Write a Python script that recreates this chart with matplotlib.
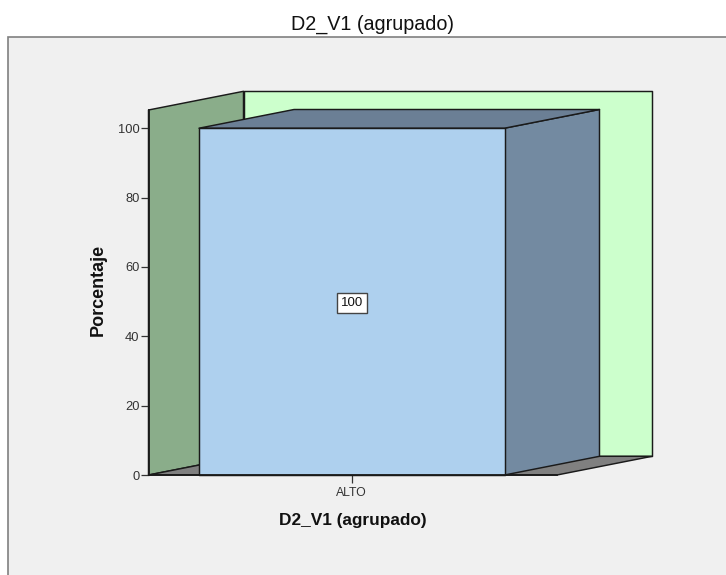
import matplotlib
matplotlib.use("Agg")
import matplotlib.pyplot as plt
from matplotlib.patches import Rectangle

categories = ["ALTO"]
values = [100]
y_ticks = [0, 20, 40, 60, 80, 100]
title = "D2_V1 (agrupado)"
x_label = "D2_V1 (agrupado)"
y_label = "Porcentaje"

W, H = 726, 575
plt.rcParams["font.family"] = ["Liberation Sans", "DejaVu Sans"]
fig = plt.figure(figsize=(W / 100, H / 100), dpi=100, facecolor="white")

# chart frame
fig.add_artist(Rectangle((8 / W, -0.02), (W + 20) / W, (H - 37) / H + 0.02, transform=fig.transFigure,
                         facecolor="#f0f0f0", edgecolor="#808080", linewidth=1.2, zorder=-5))
fig.text(372.7 / W, 1 - 24 / H, title, ha="center", va="center", fontsize=14.2, color="#111111")

# plot axes
L, R, B, T = 148.5, 557.0, 475.0, 110.0
ax = fig.add_axes([L / W, 1 - B / H, (R - L) / W, (B - T) / H])
px_x = 407.3
ax.set_xlim(-203.25 / px_x, 205.25 / px_x)
px_y = 3.468
ax.set_ylim(0, (B - T) / px_y)
ax.patch.set_alpha(0)
for s in ax.spines.values():
    s.set_visible(False)

ymax = ax.get_ylim()[1]
x0, x1 = ax.get_xlim()
dx, dy = 95.0 / px_x, 18.7 / px_y
bw = 305.5 / px_x
edge = dict(edgecolor="#1a1a1a", linewidth=1.05, clip_on=False, joinstyle="round")

# back wall, left wall, floor
ax.fill([x0 + dx, x1 + dx, x1 + dx, x0 + dx], [dy, dy, ymax + dy, ymax + dy], facecolor="#ccffcc", **edge)
ax.fill([x0, x0 + dx, x0 + dx, x0], [0, dy, ymax + dy, ymax], facecolor="#8aad8a", **edge)
ax.fill([x0, x0 + dx, x1 + dx, x1], [0, dy, dy, 0], facecolor="#808080", **edge)

# 3D bar
for i, v in enumerate(values):
    l, r = i - bw / 2, i + bw / 2
    ax.fill([r, r + dx, r + dx, r], [0, dy, v + dy, v], facecolor="#738aa1", **edge)
    ax.fill([l, l + dx, r + dx, r], [v, v + dy, v + dy, v], facecolor="#6b7f95", **edge)
    ax.bar(i, v, width=bw, facecolor="#aed0ee", zorder=3, **edge)
    ax.annotate(f"{v}", (i, v / 2), xytext=(0, -0.7), textcoords="offset points", ha="center", va="center",
                fontsize=9.5, color="#111111", zorder=5,
                bbox=dict(boxstyle="square,pad=0.3", facecolor="white", edgecolor="#444444", linewidth=1.0))

# axes lines and ticks
ax.plot([x0, x0], [0, ymax], color="#1a1a1a", lw=1.3, zorder=4, clip_on=False)
ax.plot([x0, x1], [0, 0], color="#1a1a1a", lw=1.3, zorder=4, clip_on=False)
ax.set_xticks(range(len(categories)), categories)
ax.set_yticks(y_ticks)
ax.tick_params(axis="both", length=5.5, width=0.9, color="#333333", labelcolor="#333333", pad=1.5)
ax.tick_params(axis="y", pad=1, labelsize=9.3)
ax.tick_params(axis="x", pad=3, labelsize=8.8)

fig.text(352.5 / W, 1 - 520 / H, x_label, ha="center", va="center", fontsize=12.4,
         fontweight="bold", color="#111111")
fig.text(98.5 / W, 1 - 290 / H, y_label, ha="center", va="center", rotation=90, fontsize=13,
         fontweight="bold", color="#111111")

fig.savefig("out.png", dpi=100)
